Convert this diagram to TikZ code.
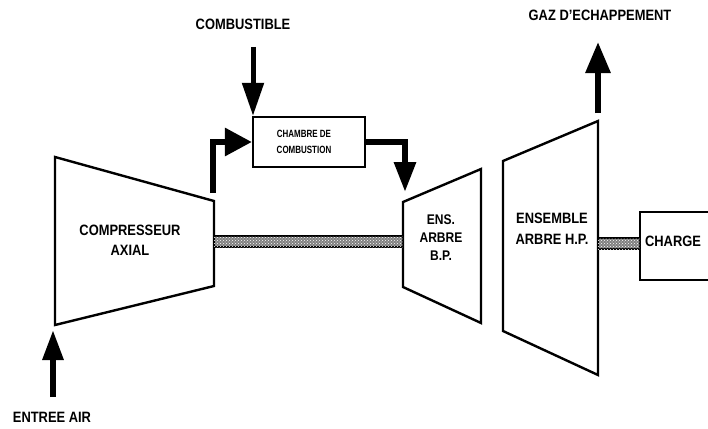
\documentclass[tikz,border=0pt]{standalone}
\usepackage{fontspec}
\setmainfont{Liberation Sans}[FakeStretch=0.86]
\newfontfamily\narrowsans{Liberation Sans}[FakeStretch=0.76]
\usetikzlibrary{arrows.meta,patterns}
\begin{document}
\begin{tikzpicture}[x=1pt,y=-1pt,
  casing/.style={draw=black,line width=2.4pt,line join=miter},
  txt/.style={font=\fontsize{15}{20}\selectfont\bfseries,align=center,inner sep=0pt},
  boxtxt/.style={font=\narrowsans\fontsize{10.5}{16}\selectfont\bfseries,align=center,inner sep=0pt},
  flow/.style={line width=6pt,-{Triangle[length=30pt,width=22pt]}},
  shaft/.style={draw=black,line width=1.6pt,fill=black!50,
    postaction={pattern=crosshatch dots,pattern color=white}}
]
\useasboundingbox (0,0) rectangle (708,428);

% axial compressor
\draw[casing] (55,157) -- (214,201) -- (214,286) -- (55,325) -- cycle;
\node[txt] (comp) at (130,240) {COMPRESSEUR\\AXIAL};

% low-pressure turbine
\draw[casing] (403,202) -- (481,169) -- (481,323) -- (403,287) -- cycle;
\node[txt,font=\fontsize{14}{18}\selectfont\bfseries] (bp) at (441,238) {ENS.\\ARBRE\\B.P.};

% high-pressure turbine
\draw[casing] (503,161) -- (598,121) -- (598,375) -- (503,331) -- cycle;
\node[txt,font=\fontsize{15}{21}\selectfont\bfseries] (hp) at (552,229) {ENSEMBLE\\ARBRE H.P.};

% driven load
\draw[casing] (708,212) -- (640,212) -- (640,280) -- (708,280);
\node[txt] (load) at (673,241) {CHARGE};

% shafts
\draw[shaft] (214,236) rectangle (403,247);
\draw[shaft] (598,238) rectangle (640,249);

% combustion chamber
\node[draw,line width=2.2pt,minimum width=112pt,minimum height=50pt] (cc) at (309,142) {};
\node[boxtxt] (cctext) at (304,142) {CHAMBRE DE\\COMBUSTION};

% flow connections
\coordinate (compout) at (213,193);
\coordinate (bpin) at (405,192);
\draw[line width=6pt,-{Triangle[length=27pt,width=27pt]}] (compout) |- (cc.west);
\draw[line width=6pt,-{Triangle[length=30pt,width=21pt]}] (cc.east) -| (bpin);

% fuel supply
\node[txt] (fuel) at (243,24) {COMBUSTIBLE};
\coordinate (fuelsrc) at (253,47);
\draw[line width=5pt,-{Triangle[length=33pt,width=21pt]}] (fuelsrc) -- (fuelsrc |- cc.north);

% exhaust
\node[txt] (gas) at (600,15) {GAZ D'ECHAPPEMENT};
\coordinate (gassrc) at (598,113);
\coordinate (gastip) at (598,42);
\draw[line width=6pt,-{Triangle[length=31pt,width=24pt]}] (gassrc) -- (gastip);

% air intake
\node[txt] (air) at (52,417) {ENTREE AIR};
\coordinate (airsrc) at (53,397);
\coordinate (airtip) at (53,330);
\draw[flow,-{Triangle[length=30pt,width=20pt]}] (airsrc) -- (airtip);
\end{tikzpicture}
\end{document}
